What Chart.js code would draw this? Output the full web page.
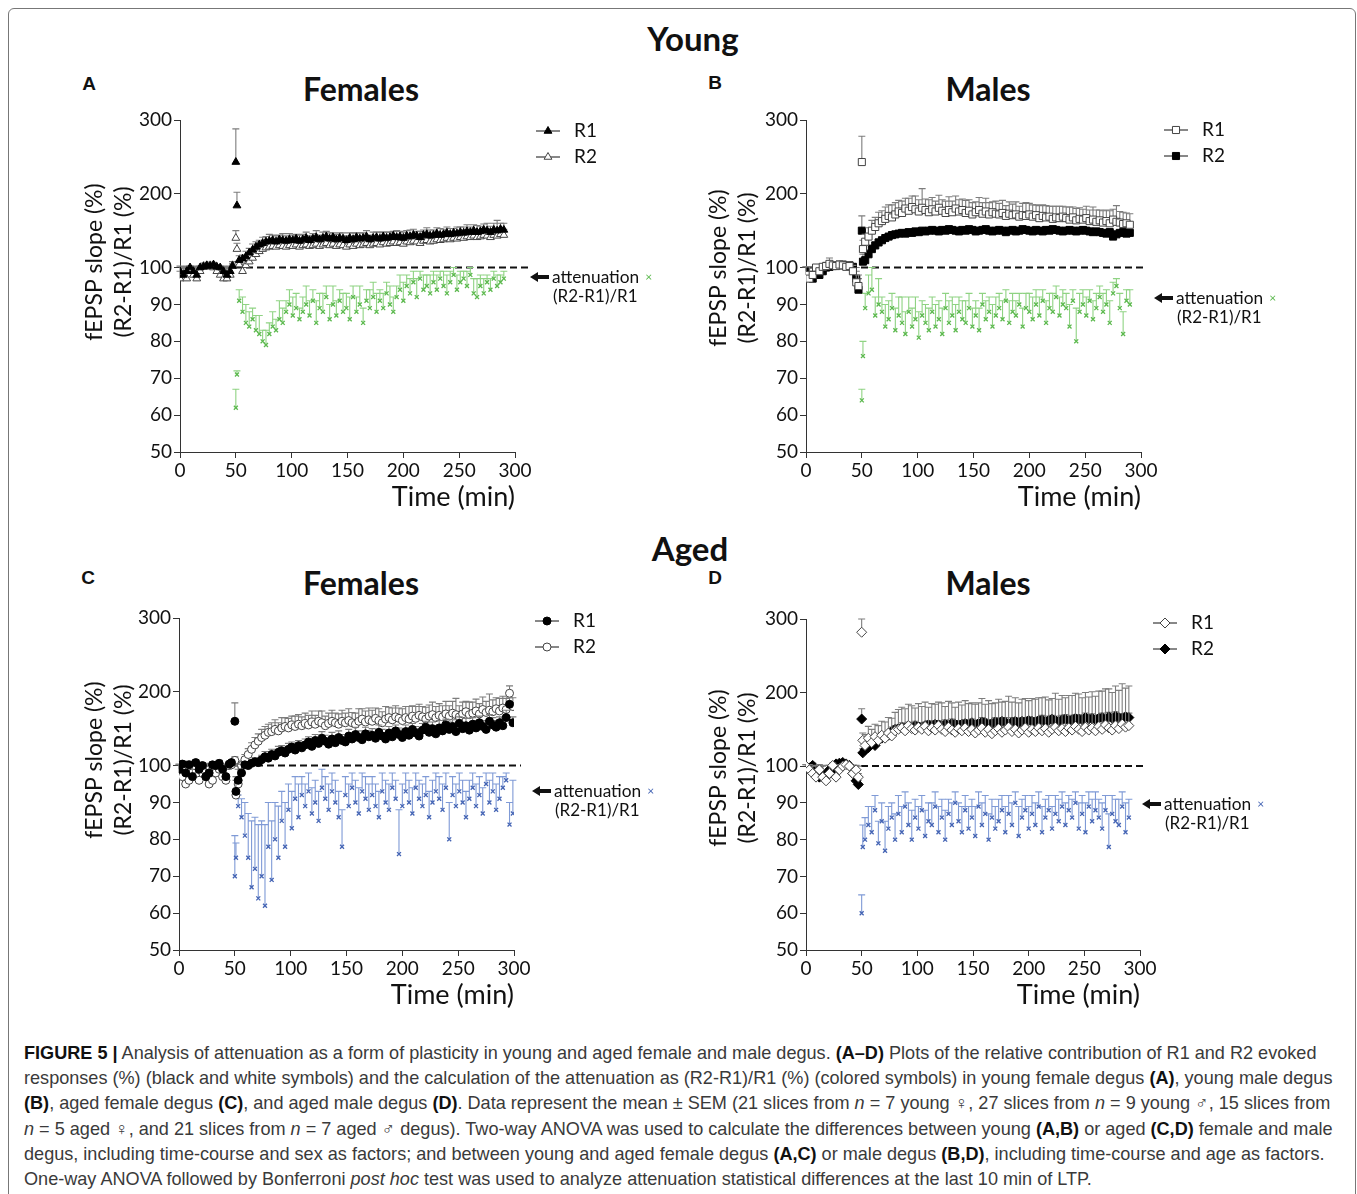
<!DOCTYPE html>
<html>
<head>
<meta charset="utf-8">
<script src="https://cdn.jsdelivr.net/npm/chart.js@4.4.1/dist/chart.umd.min.js"></script>
<style>
  body { margin:0; background:#fff; width:1357px; height:1194px; overflow:hidden; position:relative; font-family:Lato, sans-serif; color:#111; }
  .frame { position:absolute; left:8px; top:8px; width:1346px; height:1240px; border:1px solid #777; border-radius:6px; }
  .t { position:absolute; transform:translate(-50%,-50%); font-weight:bold; white-space:nowrap; }
  .big { font-size:33px; }
  .sub { font-size:32px; }
  .let { font-size:19px; font-family:"Liberation Sans", Arial, sans-serif; }
  canvas { position:absolute; }
  .cap { position:absolute; left:24px; top:1041px; font-family:"Liberation Sans", Arial, sans-serif; font-size:18.1px; line-height:25.2px; color:#3a3a3a; }
  .cap div { white-space:nowrap; }
  .cap b { color:#111; }
</style>
</head>
<body>
<div class="frame"></div>
<div class="t big" style="left:693px;top:38px">Young</div>
<div class="t big" style="left:690px;top:548px">Aged</div>
<div class="t let" style="left:89px;top:84px">A</div>
<div class="t let" style="left:715px;top:83px">B</div>
<div class="t let" style="left:88px;top:578px">C</div>
<div class="t let" style="left:715px;top:578px">D</div>
<div class="t sub" style="left:361px;top:88px">Females</div>
<div class="t sub" style="left:988px;top:88px">Males</div>
<div class="t sub" style="left:361px;top:582px">Females</div>
<div class="t sub" style="left:988px;top:582px">Males</div>

<canvas id="cA"></canvas>
<canvas id="cB"></canvas>
<canvas id="cC"></canvas>
<canvas id="cD"></canvas>

<div class="cap">
<div><b>FIGURE 5 |</b> Analysis of attenuation as a form of plasticity in young and aged female and male degus. <b>(A–D)</b> Plots of the relative contribution of R1 and R2 evoked</div>
<div>responses (%) (black and white symbols) and the calculation of the attenuation as (R2-R1)/R1 (%) (colored symbols) in young female degus <b>(A)</b>, young male degus</div>
<div><b>(B)</b>, aged female degus <b>(C)</b>, and aged male degus <b>(D)</b>. Data represent the mean ± SEM (21 slices from <i>n</i> = 7 young ♀, 27 slices from <i>n</i> = 9 young ♂, 15 slices from</div>
<div><i>n</i> = 5 aged ♀, and 21 slices from <i>n</i> = 7 aged ♂ degus). Two-way ANOVA was used to calculate the differences between young <b>(A,B)</b> or aged <b>(C,D)</b> female and male</div>
<div>degus, including time-course and sex as factors; and between young and aged female degus <b>(A,C)</b> or male degus <b>(B,D)</b>, including time-course and age as factors.</div>
<div>One-way ANOVA followed by Bonferroni <i>post hoc</i> test was used to analyze attenuation statistical differences at the last 10 min of LTP.</div>
</div>

<script>
// time points (min)
var minutes = [0,3,6,9,12,15,18,21,24,27,30,33,36,39,42,45,47,50,51,
  53,56,59,62,65,68,71,74,77,80,
  83,86,89,92,95,98,101,104,107,110,
  113,116,119,122,125,128,131,134,137,140,
  143,146,149,152,155,158,161,164,167,170,
  173,176,179,182,185,188,191,194,197,200,
  203,206,209,212,215,218,221,224,227,230,
  233,236,239,242,245,248,251,254,257,260,
  263,266,269,272,275,278,281,284,287,290];
var extraMinutesAgedF = [293,296,299];
var yTickValues = [50,60,70,80,90,100,200,300];

// A - young females
var youngFemR1 = [99,98,99,100,99,98,100,101,103,102,104,101,100,99,98,99, 102,243,184,
  110,112,115,120,124,128,131,133,135,136,
  137,135,138,137,136,138,137,139,136,138,
  140,137,139,141,138,140,142,139,141,138,
  140,139,137,140,138,141,139,140,142,138,
  140,141,139,142,140,141,143,141,142,140,
  143,142,144,143,141,144,145,143,144,146,
  144,145,147,145,147,146,148,147,149,148,
  150,148,149,151,150,148,151,150,152,151];
var youngFemR1Sem = [3,2,3,2,3,3,2,3,4,3,3,3,2,3,2,3, 3,45,18,
  6,5,7,6,8,7,6,8,7,9, 7,8,6,9,7,8,7,6,8,7, 8,6,7,9,6,8,7,8,6,7, 7,8,6,7,9,6,8,7,8,6,
  8,7,9,6,8,7,6,9,7,8, 7,9,8,6,8,7,9,8,7,8, 9,7,8,8,6,9,7,8,9,7, 8,9,7,8,10,8,9,14,8,9];
var youngFemR2 = [97,98,97,99,98,97,99,102,101,103,100,99,98,97,97,98, 103,140,125,
  104,99,103,108,113,118,122,125,127,128,
  129,128,130,129,128,130,129,131,128,130,
  131,129,130,132,129,131,133,130,132,129,
  131,130,128,131,129,132,130,131,133,130,
  132,133,131,134,132,133,135,133,134,132,
  135,134,136,135,133,136,137,135,136,138,
  137,138,140,138,140,139,141,140,142,141,
  143,141,142,144,143,141,144,143,145,144];
var youngFemR2Sem = [2,3,2,3,2,3,3,4,3,4,3,2,3,2,3,2, 5,10,8,
  5,6,7,6,8,7,8,9,8,7, 8,7,9,8,7,8,9,7,8,9, 7,8,9,7,8,9,8,7,9,8, 8,9,7,8,7,9,8,9,7,8,
  9,8,7,9,8,7,9,8,9,7, 8,9,8,7,9,8,7,9,8,9, 9,8,9,8,7,9,8,9,8,9, 8,9,8,9,8,10,9,8,9,8];
var youngFemAtt = [62,71,
  91,88,85,84,86,83,82,80,79,82,
  84,83,86,85,88,90,87,89,86,88,
  90,87,91,85,89,88,92,86,90,87,
  91,88,89,86,92,88,90,85,91,89,
  92,88,91,89,93,90,88,92,94,91,
  95,93,96,92,97,94,95,93,96,94,
  97,95,93,96,98,94,96,97,95,98,
  93,92,95,93,96,94,97,95,96,97];
var youngFemAttSem = [5,1,
  3,4,5,4,3,4,5,3,4,3, 4,3,5,4,3,4,5,4,3,4, 5,4,3,6,4,5,3,4,5,4, 3,5,4,6,3,4,5,4,3,5,
  4,5,3,4,3,5,4,3,4,5, 3,4,3,5,2,4,3,5,3,4, 2,4,5,3,2,4,3,2,4,2, 4,5,3,4,2,3,2,3,2,2];

// B - young males
var youngMaleR1 = [98,97,98,100,99,101,102,105,103,102,104,103,101,102,99,96, 95,243,125,
  135,142,150,155,160,163,166,170,168,172,
  176,174,180,177,182,179,176,181,178,175,
  179,176,181,177,174,178,175,180,176,178,
  174,177,172,175,178,173,176,172,175,173,
  172,174,170,173,171,172,169,171,170,172,
  169,171,167,170,168,169,166,168,167,169,
  167,165,168,164,166,165,167,163,165,162,
  164,161,163,160,165,162,161,159,160,158];
var youngMaleR1Sem = [3,4,3,4,3,4,5,8,5,4,5,4,6,5,4,3, 3,35,12,
  10,12,14,13,15,14,16,15,17,16, 15,16,14,17,15,18,16,26,15,17, 16,14,17,15,16,18,15,17,16,15,
  17,15,16,14,17,15,18,16,14,17, 15,17,14,16,15,17,14,16,18,15, 16,14,17,15,16,14,17,15,16,14,
  15,17,14,16,15,14,16,15,17,16, 14,16,15,17,14,22,15,16,14,15];
var youngMaleR2 = [99,98,97,99,98,99,100,101,102,103,103,104,102,103,101,97, 94,150,108,
  110,118,125,130,134,137,140,142,144,145,
  146,147,146,148,147,149,148,150,149,150,
  151,150,149,151,150,152,151,150,149,151,
  150,152,151,149,150,151,152,150,149,150,
  151,150,148,150,151,149,150,152,151,150,
  149,151,150,149,151,150,152,151,150,149,
  150,151,150,149,150,151,150,149,148,149,
  148,147,146,148,142,145,147,148,146,147];
var youngMaleR2Sem = [2,3,2,3,2,3,3,3,2,3,3,3,2,3,2,3, 3,20,10,
  8,6,6,5,5,4,4,4,4,4, 4,3,4,3,4,3,4,3,4,3, 3,4,3,4,3,4,3,4,3,4, 4,3,4,3,4,3,4,3,4,3,
  3,4,3,4,3,4,3,4,3,4, 4,3,4,3,4,3,4,3,4,3, 3,4,3,4,3,4,3,4,3,4, 4,3,4,3,5,4,3,4,3,4];
var youngMaleAtt = [64,76,
  89,93,94,87,90,88,84,86,89,83,
  87,85,82,88,84,86,81,87,85,83,
  88,84,86,82,89,85,87,83,88,86,
  85,89,84,87,83,90,86,88,84,87,
  89,86,91,85,88,87,90,84,89,88,
  86,90,87,91,85,89,88,92,87,90,
  89,84,91,80,88,90,87,91,86,89,
  92,88,90,85,93,95,89,82,91,90];
var youngMaleAttSem = [3,4,
  4,5,6,5,7,4,6,5,4,6, 5,7,6,4,5,6,7,4,5,6, 4,6,5,7,4,6,5,7,4,5, 6,4,5,4,6,3,5,4,6,5,
  4,5,3,6,5,4,3,5,4,5, 6,4,5,3,6,4,5,3,5,4, 4,6,3,9,5,4,5,3,5,4, 3,5,4,6,3,2,4,6,3,4];

// C - aged females (runs to 299 min)
var agedFemR1 = [99,102,98,101,97,104,99,100,97,98,101,100,103,99,97,102, 104,160,93,
  96,98,101,100,103,105,104,108,112,110,
  115,113,118,120,117,122,125,121,127,124,
  128,132,126,134,130,137,133,129,136,131,
  138,134,132,140,136,142,138,135,143,139,
  141,137,145,140,136,144,139,147,142,138,
  146,141,149,144,140,148,152,145,150,143,
  151,147,155,149,153,146,157,150,154,148,
  156,151,158,153,149,160,155,152,158,154,
  165,183,158];
var agedFemR1Sem = [3,4,3,5,3,4,3,4,3,5,4,3,4,3,4,3, 3,25,4,
  3,4,4,5,5,6,5,6,7,6, 7,6,8,7,6,8,7,8,7,8, 8,7,9,8,7,9,8,7,9,8, 9,8,7,9,8,10,9,8,9,8,
  9,8,10,9,8,9,10,8,9,10, 9,10,8,9,10,9,8,10,9,10, 10,9,8,10,9,10,9,8,10,9, 9,10,9,8,10,9,10,9,8,10,
  10,9,8];
var agedFemR2 = [98,97,95,96,98,97,96,99,97,95,96,98,99,97,96,100, 101,107,92,
  95,100,108,115,122,128,133,138,141,145,
  146,149,147,151,153,151,155,153,156,154,
  157,155,159,156,160,158,154,157,160,158,
  156,160,158,161,158,156,160,163,159,162,
  160,164,161,158,163,165,162,166,164,161,
  165,163,167,164,168,166,163,167,169,165,
  168,166,170,167,171,169,166,170,173,169,
  171,174,170,176,172,175,173,177,174,178,
  176,198,180];
var agedFemR2Sem = [3,4,3,4,3,4,3,3,4,3,4,3,4,3,3,4, 3,5,4,
  5,6,7,8,9,10,10,11,12,11, 12,13,11,14,12,13,12,14,13,12, 14,13,15,12,14,16,13,14,15,13,
  14,15,13,16,14,15,17,14,15,16, 15,14,16,15,17,14,16,15,14,16, 15,17,14,16,15,14,16,15,17,15,
  16,15,17,14,16,22,15,16,14,17, 15,16,14,17,15,22,16,15,17,16, 15,10,12];
var agedFemAtt = [70,75,
  89,86,81,75,67,72,64,70,62,78,
  69,80,75,85,78,88,83,91,86,92,
  89,93,87,90,85,94,91,88,93,90,
  86,78,92,89,94,90,87,93,91,88,
  92,89,86,93,90,88,94,91,76,89,
  93,90,87,94,91,89,92,86,90,93,
  91,88,94,80,92,89,93,90,86,91,
  94,89,92,87,95,90,93,88,91,94,
  96,84,87];
var agedFemAttSem = [11,4,
  3,5,9,12,18,14,20,15,22,12, 16,10,14,8,12,7,10,6,9,5, 6,5,7,6,8,5,6,7,5,6, 7,10,5,6,4,6,7,5,6,7,
  5,6,7,5,6,7,4,5,12,6, 5,6,7,4,5,6,5,7,6,5, 6,7,4,10,5,6,5,6,7,5, 4,6,5,7,3,6,5,7,6,3,
  2,6,9];

// D - aged males
var agedMaleR1 = [100,99,98,97,99,97,96,98,101,97,99,100,102,100,98,99, 97,282,135,
  128,138,132,140,135,142,138,145,141,148,
  150,152,148,155,151,149,153,150,154,148,
  152,149,155,150,147,153,149,146,151,148,
  152,147,150,145,149,152,146,150,144,148,
  151,146,149,153,147,150,145,149,152,146,
  150,147,152,148,151,146,150,153,148,151,
  147,152,149,154,150,147,153,149,152,148,
  154,150,156,152,149,155,151,157,153,155];
var agedMaleR1Sem = [2,3,2,4,3,3,2,3,3,4,3,3,4,3,3,2, 3,18,10,
  15,16,18,17,20,19,22,21,24,25, 27,28,30,29,31,30,32,31,33,32, 33,35,32,36,34,35,37,34,36,35,
  37,38,36,39,37,40,38,39,41,38, 40,41,39,42,40,43,41,42,40,43, 42,44,41,45,43,44,42,46,43,45,
  46,44,47,45,48,46,47,45,49,47, 48,52,49,53,51,54,52,55,53,54];
var agedMaleR2 = [100,99,101,98,97,98,97,99,98,103,104,105,103,101,98,96, 95,164,118,
  122,125,130,128,135,138,140,142,147,150,
  151,153,152,154,153,155,154,153,155,156,
  155,157,156,155,157,156,158,157,156,157,
  158,157,159,156,158,160,159,157,158,160,
  159,161,160,158,160,161,159,161,160,162,
  161,160,162,163,161,162,164,162,161,163,
  164,162,163,165,164,163,166,164,165,163,
  165,166,164,167,165,168,166,165,167,166];
var agedMaleR2Sem = [2,2,3,2,2,3,2,2,3,3,4,3,3,2,2,3, 3,14,6,
  6,5,6,5,6,5,6,5,6,5, 5,6,5,6,5,6,5,6,5,6, 6,5,6,5,6,5,6,5,6,5, 5,6,5,6,5,6,5,6,5,6,
  6,5,6,5,6,5,6,5,6,5, 5,6,5,6,5,6,5,6,5,6, 6,5,6,5,6,5,6,5,6,5, 5,6,5,6,5,6,5,6,5,6];
var agedMaleAtt = [60,78,
  80,84,82,88,79,85,77,83,86,80,
  87,82,89,84,80,86,83,88,81,85,
  84,89,82,86,80,87,84,90,85,82,
  88,83,86,81,89,84,87,80,86,83,
  85,88,82,87,84,90,81,86,88,83,
  87,84,89,82,86,88,83,87,85,89,
  84,88,86,90,83,87,82,89,85,88,
  86,83,88,78,87,85,84,89,82,86];
var agedMaleAttSem = [5,6,
  6,5,7,4,6,5,8,6,4,7, 5,7,4,6,8,5,6,4,7,5, 6,4,7,5,8,4,6,3,5,7, 4,6,5,8,4,6,5,7,5,6,
  6,4,7,5,6,3,8,5,4,6, 5,6,4,7,5,4,6,5,6,4, 6,4,5,3,7,5,8,4,6,5, 5,7,4,9,5,6,7,4,8,5];

// broken y axis: 50-100 spread out, 100-300 compressed 5x
function toDisplay(v) { return v <= 100 ? v : 100 + (v - 100) / 5; }
function fromDisplay(d) { return d <= 100 ? d : 100 + (d - 100) * 5; }
function pts(times, vals) {
  return vals.map(function(v, i) { return { x: times[i], y: toDisplay(v) }; });
}

var FONT = 'Lato, sans-serif';

var decorPlugin = {
  id: 'decor',
  beforeDatasetsDraw: function(chart, args, o) {
    var ctx = chart.ctx, a = chart.chartArea, y = chart.scales.y.getPixelForValue(100);
    ctx.save();
    ctx.strokeStyle = '#111'; ctx.lineWidth = 2; ctx.setLineDash([7, 4]);
    ctx.beginPath(); ctx.moveTo(a.left, y); ctx.lineTo(a.right + o.dashExtra, y); ctx.stroke();
    ctx.restore();
  },
  beforeDatasetDraw: function(chart, args, o) {
    var sem = o.sem[args.index];
    if (!sem) return;
    var ctx = chart.ctx, ys = chart.scales.y, data = chart.data.datasets[args.index].data;
    ctx.save();
    ctx.strokeStyle = o.barColor[args.index]; ctx.lineWidth = 1.1;
    args.meta.data.forEach(function(el, j) {
      if (!sem[j]) return;
      var top = ys.getPixelForValue(toDisplay(fromDisplay(data[j].y) + sem[j]));
      ctx.beginPath();
      ctx.moveTo(el.x, el.y); ctx.lineTo(el.x, top);
      ctx.moveTo(el.x - 3.5, top); ctx.lineTo(el.x + 3.5, top);
      ctx.stroke();
    });
    ctx.restore();
  },
  afterDraw: function(chart, args, o) {
    var ctx = chart.ctx;
    ctx.save();
    // y titles
    ctx.fillStyle = '#111'; ctx.font = '23px ' + FONT; ctx.textAlign = 'center'; ctx.textBaseline = 'middle';
    [['fEPSP slope (%)', 0], ['(R2-R1)/R1 (%)', 29]].forEach(function(t) {
      ctx.save();
      ctx.translate(o.yTitle.x - o.ox + t[1], o.yTitle.y - o.oy);
      ctx.rotate(-Math.PI / 2);
      ctx.fillText(t[0], 0, 0);
      ctx.restore();
    });
    // legend
    ctx.textAlign = 'left';
    o.legend.items.forEach(function(it, k) {
      var lx = o.legend.x - o.ox, ly = o.legend.y - o.oy + k * 26;
      ctx.strokeStyle = '#111'; ctx.lineWidth = 1;
      ctx.beginPath(); ctx.moveTo(lx - 12, ly); ctx.lineTo(lx + 12, ly); ctx.stroke();
      ctx.fillStyle = it.fill; ctx.strokeStyle = it.stroke;
      Chart.helpers.drawPoint(ctx, { pointStyle: it.style, radius: it.r, borderWidth: 1, rotation: 0 }, lx, ly);
      ctx.fillStyle = '#111'; ctx.font = '19px ' + FONT;
      ctx.fillText(it.label, lx + 26, ly);
    });
    // attenuation label with arrow
    var ax = o.att.x - o.ox, ay = o.att.y - o.oy;
    ctx.fillStyle = '#111';
    ctx.beginPath();
    ctx.moveTo(ax, ay); ctx.lineTo(ax + 8, ay - 5); ctx.lineTo(ax + 8, ay - 2); ctx.lineTo(ax + 19, ay - 2);
    ctx.lineTo(ax + 19, ay + 2); ctx.lineTo(ax + 8, ay + 2); ctx.lineTo(ax + 8, ay + 5); ctx.closePath(); ctx.fill();
    ctx.font = '17.3px ' + FONT;
    ctx.fillText('attenuation', ax + 22, ay);
    var w = ctx.measureText('attenuation').width;
    ctx.fillStyle = o.att.color; ctx.font = '12px ' + FONT;
    ctx.fillText('×', ax + 22 + w + 6, ay);
    ctx.fillStyle = '#111'; ctx.font = '17px ' + FONT;
    ctx.fillText('(R2-R1)/R1', ax + 23, ay + 20);
    ctx.restore();
  }
};

var panels = [
  { id: 'cA', axis: { left: 180, top: 120, right: 515, bottom: 452 }, times: minutes,
    r1: youngFemR1, r1Sem: youngFemR1Sem, r2: youngFemR2, r2Sem: youngFemR2Sem, att: youngFemAtt, attSem: youngFemAttSem,
    s1: { style: 'triangle', fill: '#000', stroke: '#000', r: 4.5 }, s2: { style: 'triangle', fill: '#fff', stroke: '#444', r: 4.5 },
    attColor: '#5cb94e', attBar: '#8fd383', legend: { x: 548, y: 131 }, attLabel: { x: 530, y: 277 }, yTitle: { x: 95, y: 262 }, dash: 15 },
  { id: 'cB', axis: { left: 806, top: 120, right: 1141, bottom: 452 }, times: minutes,
    r1: youngMaleR1, r1Sem: youngMaleR1Sem, r2: youngMaleR2, r2Sem: youngMaleR2Sem, att: youngMaleAtt, attSem: youngMaleAttSem,
    s1: { style: 'rect', fill: '#fff', stroke: '#444', r: 5 }, s2: { style: 'rect', fill: '#000', stroke: '#000', r: 5 },
    attColor: '#5cb94e', attBar: '#8fd383', legend: { x: 1176, y: 130 }, attLabel: { x: 1154, y: 298 }, yTitle: { x: 719, y: 268 }, dash: 2 },
  { id: 'cC', axis: { left: 179, top: 618, right: 514, bottom: 950 }, times: minutes.concat(extraMinutesAgedF),
    r1: agedFemR1, r1Sem: agedFemR1Sem, r2: agedFemR2, r2Sem: agedFemR2Sem, att: agedFemAtt, attSem: agedFemAttSem,
    s1: { style: 'circle', fill: '#000', stroke: '#000', r: 4 }, s2: { style: 'circle', fill: '#fff', stroke: '#444', r: 4 },
    attColor: '#4464b4', attBar: '#7f9ad6', legend: { x: 547, y: 621 }, attLabel: { x: 532, y: 791 }, yTitle: { x: 95, y: 760 }, dash: 7 },
  { id: 'cD', axis: { left: 806, top: 619, right: 1140, bottom: 950 }, times: minutes,
    r1: agedMaleR1, r1Sem: agedMaleR1Sem, r2: agedMaleR2, r2Sem: agedMaleR2Sem, att: agedMaleAtt, attSem: agedMaleAttSem,
    s1: { style: 'rectRot', fill: '#fff', stroke: '#444', r: 5 }, s2: { style: 'rectRot', fill: '#000', stroke: '#000', r: 5 },
    attColor: '#4464b4', attBar: '#7f9ad6', legend: { x: 1165, y: 623 }, attLabel: { x: 1142, y: 804 }, yTitle: { x: 719, y: 768 }, dash: 7 }
];

panels.forEach(function(p) {
  var YW = 110, PT = 20, XH = 73, W = 620;
  var cv = document.getElementById(p.id);
  var ox = p.axis.left - YW, oy = p.axis.top - PT;
  var H = (p.axis.bottom - p.axis.top) + PT + XH;
  cv.width = W; cv.height = H;
  cv.style.left = ox + 'px'; cv.style.top = oy + 'px';
  var attTimes = p.times.slice(17);
  var ds = function(vals, times, s) {
    return { data: pts(times, vals), pointStyle: s.style, pointRadius: s.r, pointBackgroundColor: s.fill,
      pointBorderColor: s.stroke, pointBorderWidth: 1, showLine: false };
  };
  new Chart(cv, {
    type: 'scatter',
    data: { datasets: [
      ds(p.r1, p.times, p.s1),
      ds(p.r2, p.times, p.s2),
      { data: pts(attTimes, p.att), pointStyle: 'crossRot', pointRadius: 2.8, pointBorderColor: p.attColor,
        pointBorderWidth: 1.3, showLine: false }
    ] },
    options: {
      responsive: false, animation: false, events: [],
      layout: { padding: { top: PT, left: 0, bottom: 0, right: W - YW - (p.axis.right - p.axis.left) } },
      plugins: {
        legend: { display: false }, tooltip: { enabled: false },
        decor: {
          ox: ox, oy: oy, dashExtra: p.dash,
          sem: [p.r1Sem, p.r2Sem, p.attSem], barColor: ['#7d7d7d', '#7d7d7d', p.attBar],
          yTitle: p.yTitle,
          legend: { x: p.legend.x, y: p.legend.y, items: [
            { label: 'R1', style: p.s1.style, fill: p.s1.fill, stroke: p.s1.stroke, r: p.s1.r },
            { label: 'R2', style: p.s2.style, fill: p.s2.fill, stroke: p.s2.stroke, r: p.s2.r } ] },
          att: { x: p.attLabel.x, y: p.attLabel.y, color: p.attColor }
        }
      },
      scales: {
        x: {
          type: 'linear', min: 0, max: 300,
          ticks: { stepSize: 50, color: '#111', font: { family: FONT, size: 19 }, padding: 1, maxRotation: 0 },
          grid: { drawOnChartArea: false, drawTicks: true, tickLength: 6, color: '#333' },
          border: { color: '#333', width: 1 },
          title: { display: true, text: 'Time (min)', align: 'end', color: '#111', font: { family: FONT, size: 27 }, padding: { top: 0, bottom: 12 } },
          afterFit: function(s) { s.height = XH; }
        },
        y: {
          type: 'linear', min: 50, max: 140,
          afterBuildTicks: function(s) { s.ticks = yTickValues.map(function(v) { return { value: toDisplay(v) }; }); },
          ticks: { autoSkip: false, color: '#111', font: { family: FONT, size: 19 }, padding: 2,
            callback: function(v) { return String(Math.round(fromDisplay(v))); } },
          grid: { drawOnChartArea: false, drawTicks: true, tickLength: 6, color: '#333' },
          border: { color: '#333', width: 1 },
          afterFit: function(s) { s.width = YW; }
        }
      }
    },
    plugins: [decorPlugin]
  });
});
</script>
</body>
</html>
